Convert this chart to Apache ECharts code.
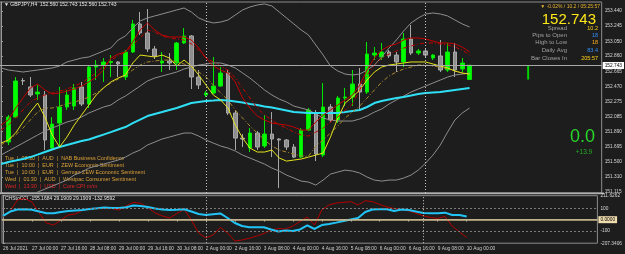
<!DOCTYPE html>
<html><head><meta charset="utf-8">
<script src="https://cdn.jsdelivr.net/npm/echarts@6/dist/echarts.min.js"></script>
<style>html,body{margin:0;padding:0;background:#1d1d1d;}#c{width:625px;height:254px;}</style>
</head><body><div id="c"></div>
<script>
// ---- bar data (bars 1..64, index 0 = 26 Jul 08:00 partially hidden) ----
const opens = [151.757,152.078,152.547,152.464,152.374,152.361,151.680,152.001,152.207,152.219,
152.464,152.245,152.720,152.746,152.778,152.785,152.592,152.913,153.273,153.157,
152.952,152.772,152.797,152.772,153.029,153.119,152.592,152.361,152.386,152.476,
152.643,152.130,151.808,151.680,151.873,151.706,151.860,151.796,151.783,151.693,
151.564,151.911,152.130,151.590,152.207,152.040,152.322,152.335,152.502,152.399,
152.874,152.849,152.913,152.874,152.785,153.080,152.900,152.926,152.836,152.862,
152.682,152.913,152.695,152.560];
const closes = [152.078,152.541,152.541,152.361,152.399,151.783,151.988,152.207,152.361,152.451,
152.245,152.720,152.746,152.785,152.791,152.759,152.913,153.273,153.157,152.952,
152.862,152.797,152.772,153.029,153.119,152.592,152.489,152.386,152.476,152.643,
152.130,151.808,151.796,151.873,151.693,151.860,151.796,151.783,151.693,151.564,
151.911,152.168,151.603,152.207,152.040,152.322,152.335,152.502,152.399,152.887,
152.900,152.913,152.862,152.785,153.080,152.900,152.926,152.874,152.874,152.682,
152.913,152.682,152.772,152.743];
const lows = [151.719,152.065,152.489,152.335,152.297,151.655,151.655,151.680,152.168,152.168,
152.219,152.194,152.553,152.528,152.592,152.592,152.553,152.900,153.131,152.913,
152.823,152.656,152.682,152.682,153.016,152.438,152.438,152.335,152.374,152.464,
152.104,151.655,151.693,151.629,151.655,151.680,151.564,151.166,151.655,151.552,
151.552,151.898,151.513,151.564,152.014,152.001,152.219,152.219,152.168,152.374,
152.810,152.810,152.836,152.656,152.720,152.874,152.874,152.849,152.810,152.656,
152.656,152.592,152.656,152.560];
const highs = [152.104,152.592,152.579,152.592,152.489,152.412,152.078,152.464,152.425,152.502,
152.528,152.746,152.810,152.836,152.874,152.797,152.939,153.324,153.427,153.465,
152.990,152.913,152.900,153.042,153.221,153.131,152.682,152.412,152.849,152.720,
152.682,152.168,151.860,151.937,151.898,152.104,152.142,151.808,151.796,151.731,
151.937,152.194,152.168,152.515,152.245,152.348,152.451,152.682,152.708,153.042,
152.977,153.029,152.939,152.913,153.157,153.260,152.952,152.964,152.887,153.067,
153.029,153.029,152.836,152.743];

// ---- indicator values (index 0..64) ----
const cyanMA = [151.474,151.500,151.519,151.539,151.564,151.596,151.629,151.661,151.693,151.719,
151.744,151.770,151.789,151.821,151.853,151.885,151.918,151.950,152.001,152.046,
152.091,152.117,152.142,152.168,152.194,152.226,152.258,152.271,152.284,152.290,
152.297,152.290,152.277,152.264,152.245,152.232,152.213,152.200,152.181,152.162,
152.142,152.136,152.130,152.130,152.130,152.130,152.130,152.142,152.155,152.168,
152.207,152.258,152.284,152.303,152.322,152.335,152.354,152.374,152.386,152.393,
152.399,152.412,152.425,152.438,152.451];
const redSolid = [151.975,152.040,152.194,152.322,152.451,152.502,152.425,152.374,152.386,152.412,
152.438,152.476,152.528,152.592,152.682,152.836,152.887,152.913,153.042,153.196,
153.286,153.196,153.131,153.106,153.106,153.106,153.067,152.964,152.836,152.733,
152.682,152.643,152.528,152.322,152.194,152.091,152.040,152.001,151.988,151.975,
151.950,151.911,151.911,152.014,152.104,152.168,152.232,152.297,152.361,152.489,
152.682,152.836,152.939,152.990,153.016,153.067,153.093,153.093,153.080,153.054,
153.029,153.029,153.016,152.977,152.913];
const redDash = [151.911,151.975,152.065,152.168,152.271,152.322,152.361,152.386,152.412,152.438,
152.476,152.515,152.579,152.643,152.733,152.810,152.862,152.913,153.003,153.093,
153.196,153.170,153.119,153.093,153.080,153.067,153.016,152.939,152.836,152.785,
152.733,152.682,152.579,152.451,152.322,152.194,152.104,152.040,151.975,151.937,
151.885,151.847,151.834,151.885,151.937,152.014,152.078,152.168,152.245,152.425,
152.618,152.746,152.836,152.887,152.926,152.964,152.990,153.016,153.029,153.029,
153.016,153.003,152.977,152.939,152.874];
const yellowSolid = [151.744,151.783,151.873,152.014,152.142,152.258,152.078,151.847,151.693,151.821,
151.975,152.104,152.232,152.361,152.451,152.528,152.579,152.618,152.772,152.874,
152.862,152.849,152.874,152.836,152.733,152.810,152.733,152.618,152.489,152.361,
152.297,152.194,151.975,151.808,151.680,151.629,151.629,151.655,151.552,151.513,
151.526,151.539,151.564,151.590,151.616,151.821,152.065,152.258,152.335,152.425,
152.553,152.656,152.720,152.746,152.759,152.772,152.785,152.785,152.785,152.759,
152.733,152.708,152.669,152.643,152.630];
const yellowDash = [151.719,151.783,151.847,151.937,152.040,152.142,152.194,152.194,152.219,152.245,
152.271,152.297,152.335,152.386,152.451,152.515,152.566,152.618,152.682,152.746,
152.785,152.797,152.810,152.810,152.785,152.759,152.720,152.656,152.592,152.489,
152.386,152.297,152.168,152.065,151.963,151.873,151.783,151.706,151.655,151.629,
151.603,151.577,151.577,151.706,151.783,151.873,151.963,152.065,152.142,152.219,
152.322,152.425,152.528,152.605,152.656,152.695,152.720,152.746,152.746,152.733,
152.720,152.695,152.669,152.643,152.618];
const bandUpper = [152.708,152.682,152.669,152.656,152.669,152.682,152.695,152.708,152.733,152.785,
152.810,152.836,152.849,152.887,152.926,152.964,153.067,153.119,153.221,153.311,
153.350,153.376,153.401,153.427,153.453,153.478,153.427,153.350,153.311,153.286,
153.298,153.324,153.388,153.453,153.491,153.517,153.530,153.504,153.427,153.350,
153.273,153.196,153.131,153.003,152.874,152.733,152.669,152.630,152.618,152.630,
152.682,152.746,152.849,152.964,153.067,153.183,153.286,153.350,153.401,153.414,
153.401,153.376,153.324,153.273,153.234];
const bandMid = [151.590,151.642,151.693,151.744,151.796,151.847,151.898,151.937,151.975,152.014,
152.040,152.078,152.130,152.168,152.207,152.232,152.297,152.348,152.412,152.476,
152.541,152.579,152.605,152.630,152.656,152.695,152.720,152.746,152.759,152.772,
152.772,152.746,152.708,152.643,152.579,152.502,152.425,152.361,152.309,152.271,
152.219,152.194,152.168,152.117,152.065,152.040,152.027,152.027,152.027,152.053,
152.091,152.142,152.181,152.245,152.297,152.348,152.399,152.438,152.476,152.515,
152.553,152.592,152.618,152.630,152.643];
const bandLower = [150.819,150.884,150.948,151.012,151.063,151.115,151.153,151.192,151.230,151.269,
151.333,151.372,151.423,151.449,151.474,151.500,151.526,151.564,151.616,151.655,
151.719,151.757,151.796,151.821,151.847,151.873,151.873,151.834,151.783,151.744,
151.706,151.680,151.642,151.590,151.552,151.513,151.474,151.423,151.385,151.333,
151.295,151.256,151.243,151.205,151.269,151.346,151.372,151.397,151.385,151.359,
151.308,151.269,151.256,151.269,151.269,151.295,151.333,151.397,151.487,151.590,
151.719,151.885,152.040,152.130,152.194];
const cciMain = [24,77,174,187,156,59,-29,-47,-3,41,50,85,94,100,100,99,85,121,153,144,
107,59,33,15,55,90,-3,-117,-161,-135,-69,-117,-188,-179,-164,-144,-122,-91,-78,-82,
-56,-16,24,-47,85,130,147,153,159,130,167,159,134,112,99,90,77,56,35,19,12,28,-56,-108,-157];
const cciSignal = [33,72,90,92,87,72,56,56,68,77,81,85,94,100,107,103,103,109,125,121,
112,99,90,85,87,92,72,50,41,48,55,15,-29,-56,-67,-67,-67,-86,-104,-95,
-100,-86,-51,-82,-47,-38,-26,-11,2,15,68,90,92,92,77,90,85,72,59,56,56,62,41,41,28];

// ---- ticks, labels, texts ----
const timeTickIndex = [0,4,8,12,16,20,24,28,32,36,40,44,48,52,56,60,64];
const timeTickText = ['26 Jul 2021','27 Jul 00:00','27 Jul 16:00','28 Jul 08:00','29 Jul 00:00','29 Jul 16:00','30 Jul 08:00','2 Aug 00:00','2 Aug 16:00','3 Aug 08:00','4 Aug 00:00','4 Aug 16:00','5 Aug 08:00','6 Aug 00:00','6 Aug 16:00','9 Aug 08:00','10 Aug 00:00'];
const priceTicks = [153.440,153.245,153.050,152.860,152.665,152.470,152.275,152.085,151.890,151.695,151.500,151.310,151.115];
const cciTicks = [211.6262,100,-100,-207.3406];
const cciTickText = ['211.6262','100','-100','-207.3406'];
const weekSeparators = [28,58];
const bidPrice = 152.743;
const currentBarSlot = 72;
const currentBarRange = [152.560,152.743];
const headerText = '\u25BC GBPJPY,H4  152.560 152.743 152.560 152.743';
const cciHeader = 'CHStoCCI -155.1684 29.1909 29.1909 -132.9592';
const events = ['Tue  |  02:30  |  AUD  |  NAB Business Confidence','Tue  |  10:00  |  EUR  |  ZEW Economic Sentiment','Tue  |  10:00  |  EUR  |  German ZEW Economic Sentiment','Wed  |  01:30  |  AUD  |  Westpac Consumer Sentiment','Wed  |  13:30  |  USD  |  Core CPI m/m'];
const eventColors = ['#d9a038','#d9a038','#d9a038','#d9a038','#e02424'];
const infoLabels = ['Spread','Pips to Open','High to Low','Daily Avg','Bar Closes In'];
const infoValues = ['10.2','18','18','83.4','205:57'];
const infoColors = ['#ffd21a','#2f8fff','#ffb020','#2f8fff','#ffd21a'];

const XMIN = -0.136, XMAX = 82.04;
const FONT = 'Liberation Sans, Arial, sans-serif';
const pts = arr => arr.map((v,i)=>[i,v]);
const candleData = opens.map((o,k)=>[k+1,o,closes[k],lows[k],highs[k]]);
function line(data, color, width, type, xi){
  return {type:'line', data:pts(data), xAxisIndex:xi||0, yAxisIndex:xi||0, showSymbol:false, symbol:'none',
    lineStyle:{color:color, width:width, type:type||'solid'}, silent:true, z:3};
}
const sepLines = weekSeparators.map(x=>({xAxis:x, lineStyle:{color:'#c8c8c8', width:1, type:[1,2]}, label:{show:false}}));

const graphics = [];
graphics.push({type:'text', x:4, y:5, style:{text:headerText, fill:'#e6e6e6', fontSize:5, fontFamily:FONT, textVerticalAlign:'middle'}});
graphics.push({type:'text', x:600, y:7, style:{text:'\u25BC -0.02% / 10.2 / 05:25:57', fill:'#e8b830', fontSize:5, fontFamily:FONT, textAlign:'right', textVerticalAlign:'middle'}});
graphics.push({type:'text', x:596, y:19.5, style:{text:'152.743', fill:'#ffe81a', fontSize:15, fontFamily:FONT, textAlign:'right', textVerticalAlign:'middle'}});
const infoY = [28.5,35.5,42.8,50.5,58];
infoLabels.forEach((t,i)=>{
  graphics.push({type:'text', x:567, y:infoY[i], style:{text:t, fill:'#a0a0a0', fontSize:6, fontFamily:FONT, textAlign:'right', textVerticalAlign:'middle'}});
  graphics.push({type:'text', x:598, y:infoY[i], style:{text:infoValues[i], fill:infoColors[i], fontSize:5.5, fontFamily:FONT, textAlign:'right', textVerticalAlign:'middle'}});
});
graphics.push({type:'text', x:595, y:137, style:{text:'0.0', fill:'#2ad62a', fontSize:18, fontFamily:FONT, textAlign:'right', textVerticalAlign:'middle'}});
graphics.push({type:'text', x:584, y:152, style:{text:'+13.9', fill:'#22b022', fontSize:6.5, fontFamily:FONT, textAlign:'center', textVerticalAlign:'middle'}});
events.forEach((t,i)=>{
  graphics.push({type:'text', x:5, y:158.3+i*7, style:{text:t, fill:eventColors[i], fontSize:5.4, fontFamily:FONT, textVerticalAlign:'middle'}});
});
graphics.push({type:'text', x:5, y:198.6, style:{text:cciHeader, fill:'#e6e6e6', fontSize:5, fontFamily:FONT, textVerticalAlign:'middle'}});
graphics.push({type:'rect', shape:{x:0, y:192.6, width:604, height:1.6}, style:{fill:'#b0b0b0'}, silent:true});

const chart = echarts.init(document.getElementById('c'), null, {renderer:'canvas', width:625, height:254});
chart.setOption({
  backgroundColor:'#1d1d1d',
  animation:false,
  grid:[
    {left:0, top:2, width:604, height:191, show:true, borderColor:'#8c8c8c', borderWidth:1, backgroundColor:'transparent'},
    {left:0, top:195.7, width:604, height:47.5, show:true, borderColor:'#8c8c8c', borderWidth:1, backgroundColor:'transparent'}
  ],
  xAxis:[
    {gridIndex:0, type:'value', min:XMIN, max:XMAX, show:false},
    {gridIndex:1, type:'value', min:XMIN, max:XMAX, splitLine:{show:false},
      axisLine:{show:true, lineStyle:{color:'#9a9a9a'}},
      axisTick:{show:true, length:2, customValues:timeTickIndex, lineStyle:{color:'#9a9a9a'}},
      axisLabel:{customValues:timeTickIndex, formatter:v=>timeTickText[timeTickIndex.indexOf(v)]||'', color:'#cfcfcf', fontSize:4.8, fontFamily:FONT, align:'left', margin:3}}
  ],
  yAxis:[
    {gridIndex:0, type:'value', position:'right', min:151.103, max:153.555, splitLine:{show:false},
      axisLine:{show:true, lineStyle:{color:'#9a9a9a'}},
      axisTick:{show:true, length:2, customValues:priceTicks, lineStyle:{color:'#9a9a9a'}},
      axisLabel:{customValues:priceTicks, formatter:v=>v.toFixed(3), color:'#d6d6d6', fontSize:4.8, fontFamily:FONT, margin:3}},
    {gridIndex:1, type:'value', position:'right', min:-207.3406, max:211.6262, splitLine:{show:false},
      axisLine:{show:true, lineStyle:{color:'#9a9a9a'}},
      axisTick:{show:true, length:2, customValues:cciTicks, lineStyle:{color:'#9a9a9a'}},
      axisLabel:{customValues:cciTicks, formatter:v=>cciTickText[cciTicks.indexOf(v)]||String(v), color:'#d6d6d6', fontSize:4.8, fontFamily:FONT, margin:3, showMinLabel:true, showMaxLabel:true}}
  ],
  series:[
    {type:'candlestick', xAxisIndex:0, yAxisIndex:0, data:candleData, barWidth:4, silent:true, z:2,
      itemStyle:{color:'#00ff00', color0:'#8e8e8e', borderColor:'#00e600', borderColor0:'#a8a8a8', borderWidth:1},
      markLine:{symbol:['none','none'], silent:true, animation:false,
        data:[{yAxis:bidPrice, lineStyle:{color:'#a8a8a8', width:1, type:'solid'},
          label:{show:true, position:'end', formatter:bidPrice.toFixed(3), color:'#000', backgroundColor:'#ffffff', fontSize:4.8, fontFamily:FONT, padding:[1,2], distance:1}}].concat(sepLines)}},
    line(bandLower,'#8e8e8e',1),
    line(bandUpper,'#8e8e8e',1),
    line(bandMid,'#8e8e8e',1),
    line(cyanMA,'#2fe0f5',2),
    line(yellowDash,'#a8882c',1,[4,2,1,2]),
    line(yellowSolid,'#e3e31c',1),
    line(redDash,'#c40000',1,[4,2,1,2]),
    line(redSolid,'#c40000',1),
    {type:'line', xAxisIndex:0, yAxisIndex:0, data:currentBarRange.map(v=>[currentBarSlot,v]), showSymbol:false, symbol:'none', lineStyle:{color:'#00d200', width:2}, silent:true},
    {type:'line', xAxisIndex:1, yAxisIndex:1, data:pts(cciMain), showSymbol:false, symbol:'none', lineStyle:{color:'#b40000', width:1}, silent:true, z:3,
      markLine:{symbol:['none','none'], silent:true, animation:false,
        data:[{yAxis:100, lineStyle:{color:'#7a7a7a', width:1, type:[2,2]}, label:{show:false}},
              {yAxis:-100, lineStyle:{color:'#7a7a7a', width:1, type:[2,2]}, label:{show:false}},
              {yAxis:0, lineStyle:{color:'#cdb98a', width:1.5, type:'solid'},
                label:{show:true, position:'end', formatter:'0.0000', color:'#000', backgroundColor:'#efdcae', fontSize:4.8, fontFamily:FONT, padding:[1,2], distance:1}}].concat(sepLines)}},
    {type:'line', xAxisIndex:1, yAxisIndex:1, data:pts(cciSignal), showSymbol:false, symbol:'none', lineStyle:{color:'#22c4f6', width:2}, silent:true, z:4}
  ],
  graphic:graphics
});
</script>
</body></html>
